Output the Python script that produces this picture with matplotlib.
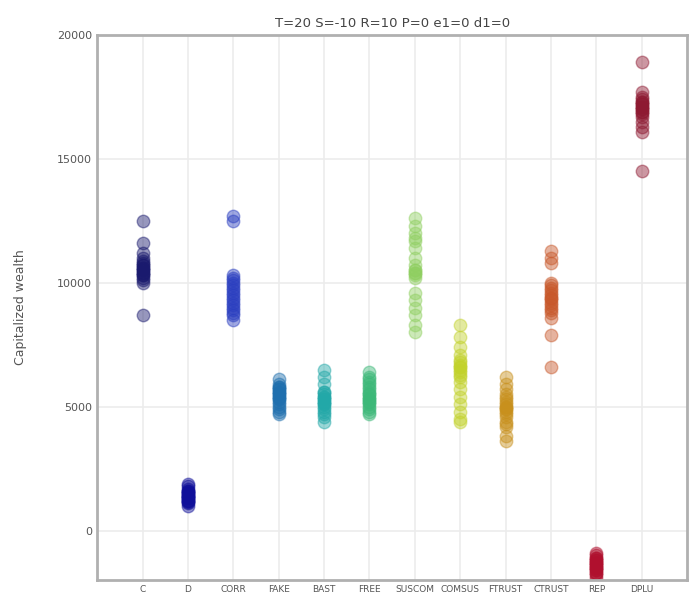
import numpy as np
import matplotlib
matplotlib.use("Agg")
import matplotlib.pyplot as plt

# strategy names along the x axis
strategies = ["C", "D", "CORR", "FAKE", "BAST", "FREE", "SUSCOM", "COMSUS",
              "FTRUST", "CTRUST", "REP", "DPLU"]

colors = ["#1a1a6e", "#10109a", "#2a3ec0", "#1f6fae", "#22a8a8", "#3cb878",
          "#8fcf60", "#c2d22a", "#c8901c", "#c8582a", "#b0102e", "#8e1a32"]

# capitalized wealth of each run, per strategy
wealth_c = [12500, 11600, 11000, 10900, 10800, 10700, 10600, 10500, 10400, 10300,
            10200, 10100, 10000, 10700, 10500, 10300, 8700, 10600, 10400, 11200]
wealth_d = [1900, 1700, 1600, 1500, 1400, 1300, 1200, 1100, 1000, 1500,
            1400, 1300, 1600, 1200, 1800, 1350, 1450, 1250, 1550, 1150]
wealth_corr = [12700, 12500, 10300, 10100, 9900, 9700, 9500, 9300, 9100, 8900,
               8700, 8500, 10000, 9800, 9200, 9000, 8800, 9600, 10200, 9400]
wealth_fake = [6100, 5900, 5800, 5700, 5600, 5500, 5400, 5300, 5200, 5100,
               5000, 4900, 4800, 4700, 5600, 5500, 5400, 5800, 5300, 5700]
wealth_bast = [6500, 6200, 5900, 5600, 5500, 5400, 5300, 5200, 5100, 5000,
               4900, 4800, 4600, 4400, 5400, 5300, 5100, 5600, 5200, 4700]
wealth_free = [6400, 6200, 6000, 5900, 5800, 5600, 5500, 5400, 5300, 5200,
               5100, 5000, 4900, 4800, 4700, 5700, 5500, 5300, 6100, 5200]
wealth_suscom = [12600, 12300, 12000, 11700, 11400, 11000, 10700, 10500, 10400, 10300,
                 10200, 9600, 9300, 9000, 8700, 8300, 8000, 10500, 10400, 11800]
wealth_comsus = [8300, 7800, 7400, 7100, 6900, 6700, 6600, 6500, 6400, 6200,
                 6000, 5700, 5400, 5100, 4800, 4500, 4400, 6600, 6800, 6300]
wealth_ftrust = [6200, 5900, 5700, 5500, 5300, 5100, 5000, 4900, 4800, 4700,
                 4600, 4400, 4200, 3800, 3600, 5000, 5200, 4900, 5400, 4300]
wealth_ctrust = [11300, 11000, 10800, 10000, 9800, 9600, 9400, 9200, 9000, 8800,
                 8600, 7900, 6600, 9500, 9300, 9700, 9100, 8900, 9900, 9400]
wealth_rep = [-900, -1000, -1100, -1200, -1300, -1400, -1500, -1600, -1700, -1800,
              -1900, -1200, -1300, -1400, -1500, -1600, -1100, -1700, -1250, -1450]
wealth_dplu = [18900, 17700, 17500, 17400, 17300, 17200, 17100, 17000, 16900, 16800,
               16700, 16500, 16300, 16100, 14500, 17200, 17000, 17300, 16900, 17100]

all_wealth = [wealth_c, wealth_d, wealth_corr, wealth_fake, wealth_bast, wealth_free,
              wealth_suscom, wealth_comsus, wealth_ftrust, wealth_ctrust,
              wealth_rep, wealth_dplu]

fig = plt.figure(figsize=(6.94, 6.14), dpi=100)
ax = fig.add_axes([0.14, 0.055, 0.85, 0.888])

for i, vals in enumerate(all_wealth):
    x = np.full(len(vals), i + 1)
    ax.plot(x, vals, 'o', color=colors[i], alpha=0.45, markersize=9,
            markeredgewidth=1, markeredgecolor=colors[i])

ax.set_xlim(0, 13)
ax.set_ylim(-2000, 20000)
ax.set_xticks(range(1, len(strategies) + 1))
ax.set_xticklabels(strategies, fontsize=6.5, color="#555555")
ax.set_yticks([0, 5000, 10000, 15000, 20000])
ax.tick_params(axis='y', labelsize=8, labelcolor="#555555", length=0)
ax.tick_params(axis='x', length=0)
ax.grid(True, color="#ececec", linewidth=1.2)
ax.set_axisbelow(True)
for s in ax.spines.values():
    s.set_color("#b0b0b0")
    s.set_linewidth(2)

ax.set_ylabel("Capitalized wealth", fontsize=9, color="#555555", labelpad=22)
ax.set_title("T=20 S=-10 R=10 P=0 e1=0 d1=0", fontsize=9.5, color="#444444")

fig.savefig("out.png", dpi=100)
